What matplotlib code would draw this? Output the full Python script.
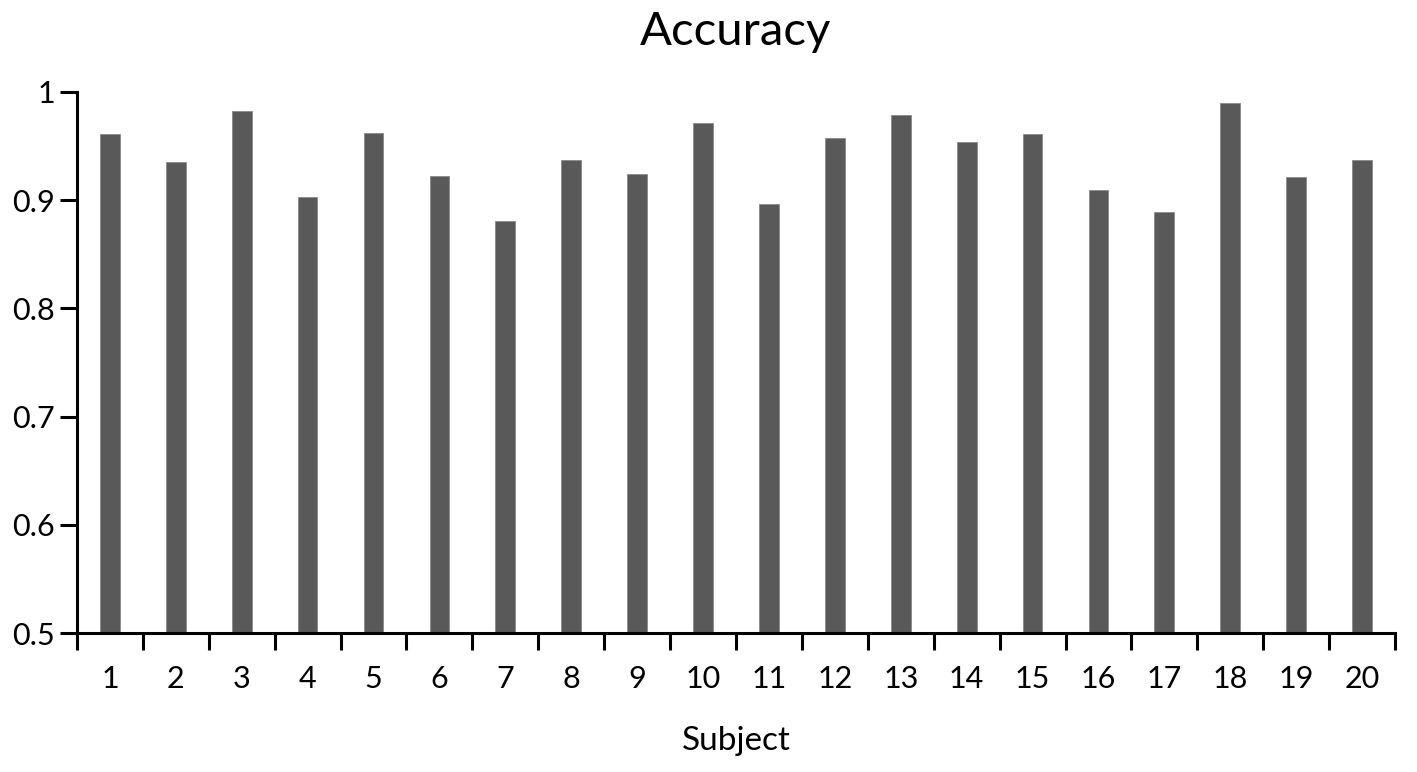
import numpy as np
import matplotlib.pyplot as plt
import matplotlib as mpl

mpl.rc('font', family=['Lato', 'DejaVu Sans'], size=22)

# Data
subjects = [str(i) for i in range(1, 21)]
accuracy = [0.961, 0.935, 0.982, 0.903, 0.962, 0.922, 0.881, 0.937, 0.924, 0.971,
            0.896, 0.957, 0.979, 0.954, 0.961, 0.909, 0.889, 0.990, 0.921, 0.937]
yticks = [0.5, 0.6, 0.7, 0.8, 0.9, 1.0]
ytick_labels = ['0.5', '0.6', '0.7', '0.8', '0.9', '1']

fig = plt.figure(figsize=(14.17, 7.72), dpi=100)
ax = fig.add_axes([0.0543, 0.180, 0.9302, 0.701])

x = np.arange(len(subjects))
ax.bar(x, [a - 0.5 for a in accuracy], bottom=0.5, width=0.3,
       color='#595959', edgecolor='#8a8a8a', linewidth=0.6)

ax.set_xlim(-0.5, len(subjects) - 0.5)
ax.set_ylim(0.5, 1.0)

ax.set_yticks(yticks)
ax.set_yticklabels(ytick_labels)
# x ticks sit between categories, labels at the centers
ax.set_xticks(np.arange(-0.5, len(subjects), 1.0))
ax.set_xticklabels([])
ax.set_xticks(x, minor=True)
ax.set_xticklabels(subjects, minor=True)
ax.tick_params(axis='x', which='minor', length=0, pad=23)
ax.tick_params(axis='x', which='major', length=12, width=2.2, direction='out')
ax.tick_params(axis='y', length=12, width=2.2, direction='out', pad=4)

for s in ['top', 'right']:
    ax.spines[s].set_visible(False)
for s in ['left', 'bottom']:
    ax.spines[s].set_linewidth(2.2)

ax.set_xlabel('Subject', fontsize=24, labelpad=24)
ax.set_title('Accuracy', fontsize=34, pad=34)

fig.savefig('out.png', dpi=100)
